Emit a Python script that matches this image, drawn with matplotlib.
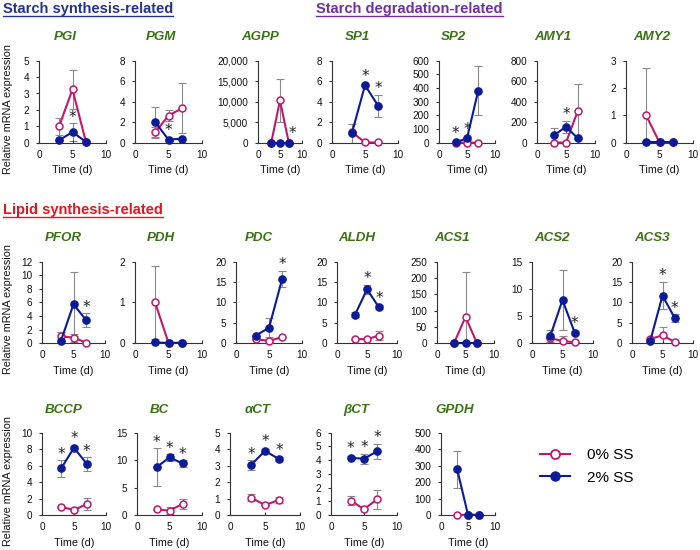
import matplotlib
matplotlib.use("Agg")
import matplotlib.pyplot as plt
from matplotlib.lines import Line2D
import numpy as np

# ---------------- data ----------------
times = [3, 5, 7]
genes = ['PGI', 'PGM', 'AGPP', 'SP1', 'SP2', 'AMY1', 'AMY2',
         'PFOR', 'PDH', 'PDC', 'ALDH', 'ACS1', 'ACS2', 'ACS3',
         'BCCP', 'BC', 'αCT', 'βCT', 'GPDH']
y_max = [5, 8, 20000, 8, 600, 800, 3,
         12, 2, 20, 20, 250, 15, 20,
         10, 15, 5, 6, 500]
y_step = [1, 2, 5000, 2, 100, 200, 1,
          2, 1, 5, 5, 50, 5, 5,
          2, 5, 1, 1, 100]

ss0_mean = [[1.0, 3.25, 0.05], [1.0, 2.65, 3.35], [1, 10300, 1], [1.05, 0.02, 0.02],
            [1, 0.5, 0.5], [1, 1, 305], [1.0, 0.01, 0.01],
            [1.0, 0.84, 0.1], [1.0, 0.01, 0.01], [1.0, 0.6, 1.5], [1.05, 1.0, 1.9],
            [1, 81, 1], [0.95, 0.42, 0.18], [1.05, 1.96, 0.3],
            [1.0, 0.6, 1.34], [1.03, 0.8, 2.0], [1.05, 0.61, 0.91], [1.05, 0.42, 1.15],
            [1, 0.5, 0.5]]
ss0_err = [[0.53, 1.2, 0], [0.55, 0.5, 2.45], [0, 5200, 0], [0, 0, 0],
           [0, 0, 0], [0, 0, 267], [1.75, 0, 0],
           [0.7, 0.6, 0], [0.9, 0, 0], [0, 0, 0], [0, 0, 1.0],
           [0, 137, 0], [0, 0.9, 0], [0, 2.1, 0],
           [0.1, 0.1, 0.7], [0.1, 0.7, 0.9], [0.2, 0, 0.2], [0.35, 0, 0.7],
           [0, 0, 0]]
ss2_mean = [[0.15, 0.65, 0.05], [2.02, 0.3, 0.4], [1, 1, 1], [0.9, 5.6, 3.6],
            [3, 32, 380], [75, 156, 45], [0.01, 0.01, 0.01],
            [0.35, 5.75, 3.4], [0.02, 0.01, 0.01], [1.9, 3.8, 15.8], [7.0, 13.2, 8.8],
            [0.5, 0.5, 0.5], [1.34, 7.96, 1.95], [0.64, 11.7, 6.2],
            [5.67, 8.18, 6.2], [8.7, 10.5, 9.4], [3.04, 3.89, 3.4], [4.17, 4.1, 4.65],
            [277, 1, 1]]
ss2_err = [[0, 0.55, 0], [1.5, 0.1, 0], [0, 0, 0], [0.95, 0.1, 1.1],
           [0, 10, 180], [65, 60, 0], [0, 0, 0],
           [1.3, 4.75, 1.0], [0, 0, 0], [0, 2.3, 2.0], [0.6, 1.2, 0.5],
           [0, 0, 0], [1.1, 5.55, 0.4], [0, 3.4, 0.9],
           [1.0, 0.2, 0.8], [3.45, 0.6, 0.6], [0.3, 0.1, 0.1], [0.1, 0.38, 0.55],
           [113, 0, 0]]
# time points where 2% SS differs significantly from 0% SS
sig_times = [[5], [5], [7], [5, 7], [3, 5], [5], [],
             [7], [], [7], [5, 7], [], [7], [5, 7],
             [3, 5, 7], [3, 5, 7], [3, 5, 7], [3, 5, 7], []]

series_labels = ['0% SS', '2% SS']
headers = ['Starch synthesis-related', 'Starch degradation-related', 'Lipid synthesis-related']

# ---------------- style ----------------
PINK = '#c2186c'
BLUE = '#0b1a96'
GREEN = '#3b7218'
GRAY = '#8a8a8a'
FONT = 'Liberation Sans'
plt.rcParams['font.family'] = [FONT, 'DejaVu Sans']

W, H = 700, 550
fig = plt.figure(figsize=(7, 5.5), dpi=100)

rows_px = [(60.7, 142.7), (261.7, 343.3), (432.7, 515.0)]
panel_px = [
    (0, 39, 106), (0, 135, 202), (0, 258, 302), (0, 332, 398), (0, 439, 495), (0, 537, 595), (0, 626, 693),
    (1, 42, 105), (1, 135, 202), (1, 236, 302), (1, 337, 397), (1, 437, 494), (1, 532, 593), (1, 632, 693),
    (2, 42, 106), (2, 137, 202), (2, 230, 300), (2, 331, 397), (2, 441, 495),
]

axes = []
for i, g in enumerate(genes):
    r, lpx, rpx = panel_px[i]
    tpx, bpx = rows_px[r]
    ax = fig.add_axes([lpx / W, 1 - bpx / H, (rpx - lpx) / W, (bpx - tpx) / H])
    axes.append(ax)
    t = np.array(times)
    m0, e0 = np.array(ss0_mean[i]), np.array(ss0_err[i])
    m2, e2 = np.array(ss2_mean[i]), np.array(ss2_err[i])
    ax.errorbar(t, m0, yerr=e0, fmt='none', ecolor=GRAY, elinewidth=0.8,
                capsize=2.6, capthick=0.8, zorder=1)
    ax.errorbar(t, m2, yerr=e2, fmt='none', ecolor=GRAY, elinewidth=0.8,
                capsize=2.6, capthick=0.8, zorder=1)
    ax.plot(t, m0, color=PINK, lw=1.5, marker='o', ms=5, mfc='white',
            mec=PINK, mew=1.1, zorder=3, clip_on=False)
    ax.plot(t, m2, color=BLUE, lw=1.5, marker='o', ms=5.2, mfc=BLUE,
            mec=BLUE, zorder=4, clip_on=False)
    ax.set_xlim(0, 10)
    ax.set_ylim(0, y_max[i])
    ax.set_xticks([0, 5, 10])
    ax.set_yticks(np.arange(0, y_max[i] + y_step[i] / 2, y_step[i]))
    if y_max[i] >= 1000:
        ax.yaxis.set_major_formatter(matplotlib.ticker.FuncFormatter(lambda v, p: f'{int(v):,}'))
    for s in ['top', 'right']:
        ax.spines[s].set_visible(False)
    for s in ['left', 'bottom']:
        ax.spines[s].set_color('#333333')
        ax.spines[s].set_linewidth(0.8)
    ax.tick_params(axis='y', direction='out', length=2.5, width=0.8, pad=4.5,
                   labelsize=7.2, colors='#333333', labelcolor='#111111')
    ax.tick_params(axis='x', direction='in', length=2.5, width=0.8, pad=5,
                   labelsize=7.2, colors='#333333', labelcolor='#111111')
    ax.set_xlabel('Time (d)', fontsize=7.8, labelpad=4, color='#111111')
    # significance stars
    ppu = (bpx - tpx) / y_max[i]
    for ts in sig_times[i]:
        k = times.index(ts)
        off_px = max(11, e2[k] * ppu + 8) - 2
        dx = 4 if g == 'AGPP' else 0
        ax.annotate('*', xy=(ts, m2[k]), xytext=(dx * 0.72, off_px * 0.72),
                    textcoords='offset points', ha='center', va='center',
                    fontsize=11, family='DejaVu Sans', color='#222222',
                    annotation_clip=False)

fig.canvas.draw()
renderer = fig.canvas.get_renderer()
for i, ax in enumerate(axes):
    r, lpx, rpx = panel_px[i]
    x0 = min(lbl.get_window_extent(renderer).x0 for lbl in ax.get_yticklabels())
    xc = (x0 + rpx) / 2 / W
    ty = [37, 238, 410][r]
    fig.text(xc, 1 - ty / H, genes[i], ha='center', va='center', fontsize=9.6,
             fontweight='bold', fontstyle='italic', color=GREEN)

# y labels
for r, (tpx, bpx) in enumerate(rows_px):
    fig.text(8 / W, 1 - ((tpx + bpx) / 2 + 7) / H, 'Relative mRNA expression',
             rotation=90, ha='center', va='center', fontsize=7.8, color='#111111')

# section headers with underline
hdr_pos = [(3, 9, '#24338f'), (316, 9, '#7030a0'), (3, 210, '#e8141e')]
for (hx, hy, hc), txt in zip(hdr_pos, headers):
    tx = fig.text(hx / W, 1 - hy / H, txt, ha='left', va='center', fontsize=10.5,
                  fontweight='bold', color=hc)
    bb = tx.get_window_extent(renderer)
    uy = 1 - (hy + 7) / H
    fig.add_artist(Line2D([bb.x0 / W, bb.x1 / W], [uy, uy], color=hc, lw=1.0,
                          transform=fig.transFigure))

# legend
handles = [Line2D([], [], color=PINK, lw=1.5, marker='o', ms=6.5, mfc='white', mec=PINK, mew=1.3),
           Line2D([], [], color=BLUE, lw=1.5, marker='o', ms=6.5, mfc=BLUE, mec=BLUE)]
fig.legend(handles, series_labels, loc='center left', bbox_to_anchor=(540 / W, 1 - 466.5 / H),
           frameon=False, fontsize=11, handlelength=1.96, handletextpad=1.1,
           labelspacing=0.55, borderpad=0, borderaxespad=0)

fig.savefig('out.png', dpi=100)
